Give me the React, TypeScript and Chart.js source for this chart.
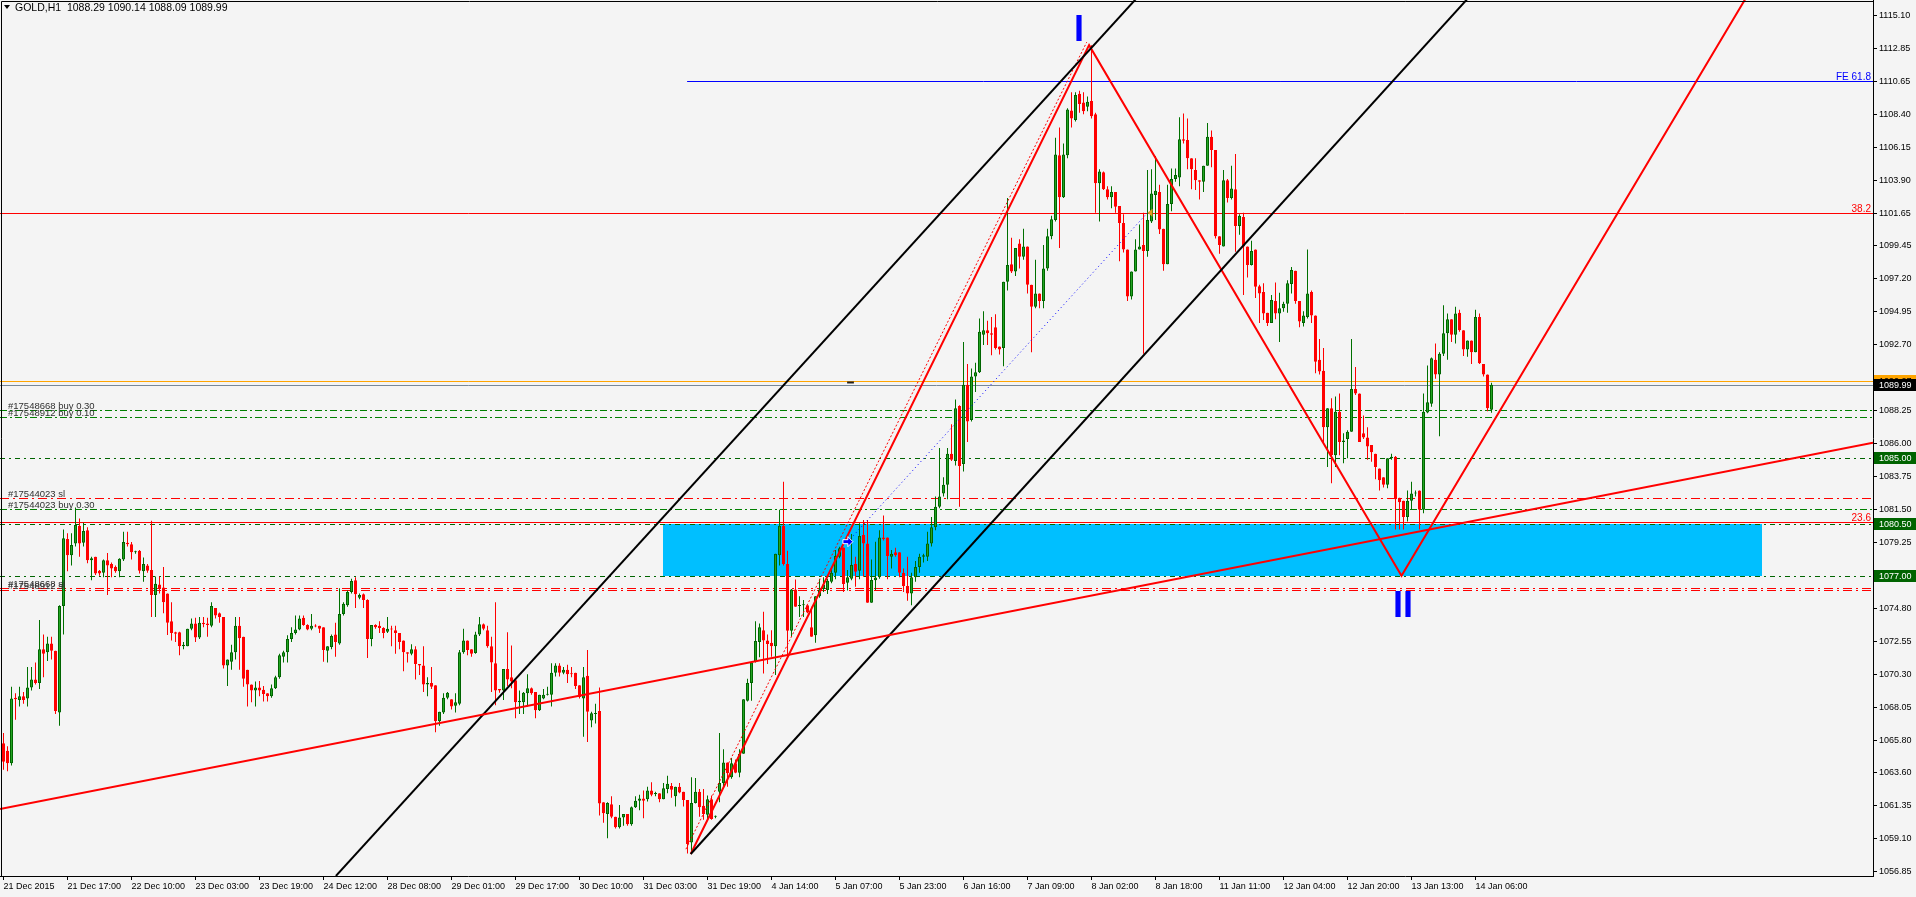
import React, { useEffect, useRef } from 'react';
import { Chart, registerables } from 'chart.js';

Chart.register(...registerables);

const FONT = "'Liberation Sans', Arial, sans-serif";

// ---- H1 candles (21 Dec 2015 -> 14 Jan 2016) ----
const opens = [
  1065.6,1065.1,1064.25,1068.7,1068.55,1068.8,1068.65,1069.4,1069.95,1069.7,
  1072.0,1071.8,1072.4,1071.9,1067.7,1074.95,1079.5,1078.4,1079.2,1080.4,
  1079.25,1080.1,1078.05,1078.3,1077.35,1077.2,1078.05,1077.8,1077.6,1077.3,
  1078.1,1079.25,1079.15,1078.6,1078.7,1077.3,1077.7,1077.4,1075.7,1076.4,
  1076.2,1075.8,1073.9,1073.15,1073.15,1072.2,1072.2,1073.4,1073.75,1072.8,
  1073.8,1073.75,1073.6,1074.8,1074.45,1074.2,1070.9,1071.15,1071.8,1073.6,
  1072.85,1070.6,1069.6,1069.2,1069.4,1069.25,1069.0,1068.8,1069.35,1070.1,
  1071.5,1071.8,1072.7,1073.1,1073.35,1074.15,1073.65,1073.4,1073.6,1073.6,
  1073.5,1071.9,1072.15,1073.0,1072.4,1074.4,1075.0,1075.9,1076.7,1075.5,
  1075.75,1075.35,1072.7,1073.65,1073.6,1073.45,1073.2,1073.4,1073.3,1073.1,
  1072.6,1071.8,1071.7,1072.0,1071.0,1070.9,1069.6,1069.7,1069.55,1067.1,
  1067.7,1068.7,1068.6,1068.15,1068.3,1071.8,1072.6,1072.0,1071.75,1073.0,
  1073.7,1073.3,1072.2,1071.05,1069.3,1069.2,1070.65,1070.1,1069.9,1068.4,
  1068.4,1069.0,1069.35,1069.1,1067.85,1068.65,1068.9,1068.9,1070.4,1070.9,
  1070.4,1070.6,1070.35,1070.4,1069.55,1068.65,1070.2,1067.15,1067.6,1067.8,
  1061.6,1060.8,1061.45,1060.6,1059.9,1060.55,1060.8,1060.1,1061.25,1061.7,
  1061.85,1061.8,1062.4,1062.15,1062.2,1061.8,1062.5,1062.7,1062.0,1062.65,
  1062.3,1061.75,1058.85,1061.55,1062.3,1061.35,1060.75,1061.8,1060.6,1062.3,
  1062.9,1064.3,1063.3,1064.25,1063.6,1064.9,1068.5,1069.7,1071.15,1072.5,
  1073.3,1072.6,1072.45,1072.2,1078.4,1080.4,1077.8,1073.26,1076.07,1074.95,
  1075.0,1075.0,1073.5,1072.95,1075.6,1076.1,1076.03,1076.6,1077.2,1078.3,
  1078.93,1076.53,1076.8,1077.8,1077.35,1079.77,1079.2,1075.17,1076.7,1076.9,
  1079.6,1079.6,1078.3,1078.6,1078.6,1077.2,1076.3,1075.8,1076.9,1077.6,
  1078.3,1078.3,1079.2,1080.3,1081.7,1082.6,1083.2,1085.3,1084.8,1088.55,
  1084.6,1090.0,1087.6,1090.55,1090.85,1093.4,1093.7,1093.5,1093.9,1092.6,
  1092.5,1097.0,1098.2,1097.7,1099.6,1098.7,1099.4,1096.8,1095.3,1096.2,
  1095.7,1097.9,1100.1,1101.2,1105.6,1102.75,1105.6,1108.65,1108.0,1109.8,
  1109.2,1108.9,1109.3,1108.4,1103.7,1104.45,1103.3,1102.75,1103.1,1102.15,
  1101.0,1099.2,1096.0,1097.7,1099.2,1099.5,1099.1,1101.1,1102.9,1103.1,
  1100.6,1098.2,1102.3,1104.0,1104.1,1106.7,1106.65,1105.4,1104.6,1103.9,
  1103.8,1104.9,1106.87,1105.96,1100.1,1099.4,1103.9,1102.7,1103.3,1100.8,
  1101.4,1099.4,1098.15,1099.2,1096.7,1096.3,1094.9,1094.2,1095.7,1094.85,
  1095.2,1095.5,1096.85,1097.75,1095.7,1094.2,1094.6,1096.3,1094.7,1091.7,
  1090.95,1087.1,1088.4,1085.2,1088.16,1086.1,1086.3,1086.8,1089.7,1089.4,
  1086.7,1086.4,1085.9,1085.3,1084.3,1083.7,1083.2,1085.0,1085.1,1082.3,
  1082.1,1081.0,1082.1,1082.6,1082.8,1081.5,1088.1,1088.7,1091.7,1090.7,
  1092.1,1093.5,1094.45,1093.4,1094.9,1093.7,1092.4,1093.0,1092.2,1094.6,
  1091.4,1090.7,1088.29,
];
const highs = [
  1066.3,1065.4,1069.45,1069.0,1069.45,1069.1,1070.8,1070.8,1071.1,1074.0,
  1073.0,1072.85,1072.85,1071.9,1075.0,1080.15,1079.9,1079.9,1081.65,1080.9,
  1080.6,1080.3,1078.3,1078.3,1077.4,1078.1,1078.55,1077.9,1077.7,1078.2,
  1080.0,1080.0,1079.3,1078.7,1078.75,1078.25,1077.8,1080.75,1076.95,1076.95,
  1077.6,1075.8,1075.2,1073.2,1073.2,1072.5,1073.4,1074.1,1074.15,1074.2,
  1074.2,1074.15,1075.2,1074.8,1074.5,1074.2,1071.3,1072.3,1074.2,1074.2,
  1072.85,1070.6,1069.6,1069.8,1069.85,1069.5,1069.0,1069.6,1070.2,1071.7,
  1071.9,1072.95,1073.5,1074.3,1074.3,1074.3,1073.7,1074.4,1073.7,1073.6,
  1073.5,1072.2,1073.0,1073.8,1076.15,1075.2,1076.0,1076.8,1076.9,1075.8,
  1075.8,1075.4,1073.65,1073.7,1073.9,1073.5,1074.2,1073.6,1073.6,1073.1,
  1072.6,1071.8,1072.35,1072.2,1071.0,1072.2,1070.1,1070.8,1069.55,1067.75,
  1069.0,1069.1,1068.6,1069.0,1071.95,1073.4,1072.6,1072.0,1073.2,1074.2,
  1073.75,1073.6,1072.85,1075.2,1069.3,1070.65,1073.15,1072.25,1069.9,1069.2,
  1069.1,1070.3,1069.4,1069.1,1068.9,1069.3,1069.45,1071.05,1071.05,1071.05,
  1070.8,1070.95,1070.8,1070.4,1069.55,1070.8,1071.95,1067.75,1068.3,1069.4,
  1061.6,1061.6,1062.0,1060.6,1061.4,1060.8,1060.8,1061.3,1062.0,1062.1,
  1062.4,1062.65,1062.95,1062.3,1062.2,1062.9,1063.4,1062.9,1062.65,1062.9,
  1062.3,1061.75,1063.3,1063.25,1062.5,1062.5,1062.05,1062.05,1060.7,1066.3,
  1065.2,1064.3,1064.6,1064.5,1065.2,1068.6,1070.0,1071.15,1073.9,1073.75,
  1074.56,1073.0,1073.3,1078.5,1081.5,1083.4,1078.7,1076.1,1076.75,1075.6,
  1075.35,1075.0,1074.9,1075.6,1076.8,1076.9,1076.8,1077.44,1078.75,1078.98,
  1078.93,1077.4,1079.84,1078.3,1080.57,1080.8,1080.8,1078.1,1079.32,1080.1,
  1081.1,1079.6,1078.75,1078.9,1078.6,1077.5,1078.3,1077.2,1078.0,1078.5,
  1078.5,1080.0,1081.0,1082.4,1085.7,1083.7,1085.7,1087.3,1089.0,1088.6,
  1092.9,1091.4,1091.1,1091.5,1094.5,1095.0,1094.35,1094.6,1094.8,1092.6,
  1097.0,1102.7,1100.0,1099.3,1099.9,1100.6,1099.4,1096.8,1098.5,1096.2,
  1099.5,1100.6,1101.5,1106.8,1107.5,1106.4,1108.8,1109.9,1109.9,1110.0,
  1109.9,1109.6,1113.09,1108.5,1104.65,1104.5,1103.5,1103.5,1103.1,1102.15,
  1101.6,1099.2,1097.7,1099.9,1100.9,1101.7,1104.6,1104.65,1105.55,1103.6,
  1100.6,1103.6,1104.7,1104.7,1108.2,1108.45,1108.1,1105.4,1105.4,1103.9,
  1104.9,1107.8,1107.3,1105.96,1100.1,1104.6,1104.0,1104.9,1105.7,1101.6,
  1101.7,1099.4,1099.8,1099.2,1096.8,1096.9,1094.9,1096.1,1096.95,1096.25,
  1095.65,1097.1,1098.0,1097.75,1095.7,1095.0,1099.2,1096.4,1094.7,1093.1,
  1092.5,1088.4,1089.07,1089.2,1089.4,1086.7,1086.9,1093.1,1091.2,1089.4,
  1087.9,1087.1,1085.9,1085.3,1084.3,1083.7,1085.0,1085.3,1085.15,1082.3,
  1082.1,1082.8,1083.4,1082.8,1082.8,1089.4,1091.3,1091.85,1092.8,1092.2,
  1095.4,1094.85,1094.45,1095.3,1095.1,1093.7,1093.0,1093.0,1095.1,1094.85,
  1091.4,1090.7,1090.14,
];
const lows = [
  1063.8,1063.7,1064.1,1067.2,1068.1,1068.3,1068.1,1069.2,1069.6,1069.3,
  1070.1,1071.2,1071.3,1067.6,1066.8,1073.0,1077.3,1077.7,1079.0,1078.3,
  1079.0,1077.85,1076.7,1077.05,1077.0,1076.9,1075.7,1076.9,1077.2,1076.9,
  1078.0,1079.0,1078.1,1078.5,1077.15,1076.6,1077.2,1074.2,1074.2,1075.8,
  1074.45,1072.97,1072.6,1072.5,1071.6,1072.0,1072.2,1073.3,1072.5,1072.7,
  1073.5,1072.85,1073.5,1074.1,1073.8,1070.7,1069.5,1070.6,1071.3,1070.6,
  1069.45,1068.1,1068.4,1068.1,1068.8,1068.45,1068.45,1068.7,1069.3,1070.0,
  1071.1,1071.1,1072.5,1073.0,1073.3,1073.6,1073.3,1073.3,1073.5,1073.1,
  1071.15,1071.1,1072.0,1071.5,1072.3,1074.3,1074.9,1075.8,1074.8,1075.4,
  1074.8,1071.4,1072.2,1073.4,1073.1,1072.75,1073.1,1072.2,1071.7,1072.0,
  1070.5,1071.1,1071.6,1069.95,1070.25,1069.1,1068.8,1069.3,1066.35,1066.8,
  1067.6,1068.6,1067.9,1067.7,1068.2,1071.7,1071.6,1071.5,1071.7,1072.9,
  1073.3,1072.1,1069.1,1068.2,1069.05,1068.55,1069.5,1069.35,1067.3,1067.6,
  1067.6,1068.1,1068.9,1067.3,1067.8,1068.6,1068.85,1068.1,1070.15,1070.15,
  1070.3,1069.7,1070.1,1069.3,1068.65,1066.05,1065.7,1066.7,1066.95,1060.7,
  1060.2,1059.15,1060.5,1059.8,1059.8,1060.0,1060.0,1060.0,1061.2,1061.05,
  1060.5,1061.65,1062.0,1062.0,1061.6,1061.8,1062.2,1061.9,1061.3,1062.2,
  1061.3,1058.1,1058.1,1061.5,1060.6,1060.4,1060.4,1060.4,1060.5,1061.6,
  1062.65,1062.65,1063.2,1063.56,1063.3,1064.9,1068.45,1068.5,1071.1,1071.45,
  1070.36,1071.0,1071.5,1070.25,1077.7,1077.7,1071.5,1072.9,1074.9,1074.2,
  1074.2,1074.45,1072.85,1072.45,1075.5,1075.9,1075.76,1076.5,1076.76,1078.2,
  1075.9,1075.99,1076.7,1076.26,1076.76,1076.94,1075.17,1075.17,1076.03,1076.8,
  1079.4,1076.76,1077.5,1078.3,1076.9,1075.9,1075.3,1075.0,1076.6,1077.2,
  1077.9,1078.0,1079.0,1080.1,1081.6,1082.4,1082.2,1084.8,1084.5,1081.7,
  1084.1,1086.1,1087.5,1089.5,1090.8,1092.7,1092.7,1092.0,1092.4,1092.05,
  1091.25,1096.4,1097.6,1097.4,1097.9,1098.5,1096.2,1092.2,1095.2,1095.2,
  1095.2,1097.75,1099.9,1101.1,1099.3,1102.7,1105.4,1107.5,1107.9,1108.5,
  1108.4,1108.6,1108.1,1101.7,1101.1,1103.25,1102.6,1102.0,1101.7,1098.4,
  1099.0,1095.7,1095.8,1097.7,1099.2,1092.1,1098.7,1101.0,1101.2,1100.25,
  1097.75,1098.2,1101.8,1103.8,1103.5,1106.4,1104.65,1103.3,1103.25,1102.6,
  1103.1,1104.9,1104.8,1099.95,1098.9,1099.4,1102.4,1102.6,1099.05,1100.2,
  1096.1,1097.3,1098.1,1095.9,1094.2,1094.4,1094.0,1094.2,1094.45,1092.9,
  1094.97,1094.9,1096.2,1095.5,1093.9,1093.95,1094.5,1094.2,1090.77,1090.7,
  1086.0,1084.4,1083.3,1084.4,1085.2,1084.65,1085.0,1086.8,1089.3,1086.1,
  1086.3,1084.9,1084.75,1083.56,1082.8,1083.0,1082.95,1084.9,1080.15,1080.15,
  1080.15,1080.7,1081.5,1082.4,1080.15,1081.25,1088.05,1088.5,1090.4,1086.5,
  1091.95,1091.7,1092.9,1092.8,1093.6,1091.95,1091.9,1091.4,1092.2,1091.4,
  1090.55,1088.2,1088.09,
];
const closes = [
  1064.35,1064.25,1068.65,1068.6,1068.8,1068.55,1069.4,1069.95,1069.7,1072.0,
  1071.7,1072.4,1071.9,1067.8,1074.95,1079.55,1078.4,1079.1,1080.45,1079.2,
  1080.05,1078.05,1078.2,1077.15,1077.15,1078.05,1077.7,1077.5,1077.3,1078.15,
  1079.3,1079.15,1078.6,1078.65,1077.35,1077.8,1077.35,1075.7,1076.45,1076.1,
  1075.2,1073.8,1073.1,1073.05,1072.2,1072.3,1073.4,1073.75,1072.8,1073.8,
  1073.7,1073.65,1074.95,1074.3,1074.2,1070.9,1071.3,1071.8,1073.6,1072.75,
  1070.0,1069.6,1069.2,1069.4,1069.2,1068.95,1068.8,1069.35,1070.1,1071.6,
  1071.8,1072.7,1073.1,1073.35,1074.1,1073.65,1073.35,1073.6,1073.55,1073.4,
  1071.95,1072.2,1072.9,1072.5,1074.4,1075.1,1075.9,1076.65,1075.75,1075.7,
  1075.35,1072.7,1073.65,1073.5,1073.45,1073.1,1073.4,1073.35,1073.1,1072.5,
  1071.8,1071.7,1072.0,1071.0,1070.9,1069.6,1069.7,1069.45,1067.1,1067.75,
  1068.7,1069.05,1068.1,1068.4,1071.8,1072.6,1071.95,1071.7,1073.0,1073.7,
  1073.4,1072.2,1071.1,1069.2,1069.2,1070.65,1069.95,1069.8,1068.4,1068.5,
  1069.05,1069.35,1069.0,1067.85,1068.9,1068.9,1068.95,1070.4,1070.9,1070.4,
  1070.6,1070.3,1070.3,1069.5,1068.75,1070.1,1067.75,1067.65,1067.65,1061.5,
  1060.85,1061.55,1060.6,1059.9,1060.55,1060.8,1060.1,1061.25,1061.7,1061.85,
  1061.7,1062.4,1062.1,1062.2,1061.8,1062.55,1062.85,1062.45,1062.65,1062.25,
  1061.75,1058.75,1061.55,1062.3,1061.25,1060.8,1061.8,1060.45,1060.65,1062.9,
  1064.3,1063.56,1064.25,1063.6,1064.9,1068.6,1069.7,1071.1,1072.56,1073.5,
  1072.6,1072.36,1072.2,1078.5,1080.4,1077.8,1073.26,1076.07,1074.9,1074.98,
  1075.05,1074.5,1072.85,1075.6,1076.07,1076.4,1076.67,1077.21,1078.35,1078.87,
  1076.44,1076.9,1077.73,1077.28,1079.7,1079.2,1075.17,1076.71,1076.89,1079.6,
  1079.48,1078.35,1078.5,1078.4,1077.2,1076.3,1075.8,1076.9,1077.6,1078.3,
  1078.4,1079.2,1080.3,1081.7,1082.4,1083.2,1085.3,1084.9,1088.4,1084.46,
  1090.0,1087.5,1090.55,1090.85,1093.6,1093.7,1093.5,1093.4,1092.5,1092.4,
  1097.0,1098.15,1097.7,1099.3,1098.7,1099.4,1096.8,1095.3,1096.2,1095.7,
  1097.9,1100.1,1101.25,1105.66,1102.75,1105.66,1108.72,1108.1,1109.7,1109.1,
  1108.6,1109.25,1108.26,1103.7,1104.5,1103.3,1102.75,1103.1,1102.1,1101.0,
  1099.2,1096.0,1097.7,1099.2,1099.4,1099.1,1101.2,1103.0,1103.2,1100.55,
  1098.2,1102.3,1104.0,1104.26,1106.7,1106.6,1105.4,1104.65,1103.9,1103.8,
  1104.9,1106.87,1105.96,1100.1,1099.5,1103.9,1102.7,1103.35,1100.8,1101.5,
  1099.4,1098.15,1099.1,1096.67,1096.2,1094.85,1094.2,1095.76,1094.85,1095.2,
  1095.5,1096.9,1097.8,1095.7,1094.3,1094.7,1096.2,1094.7,1091.56,1090.9,
  1087.1,1088.4,1085.2,1088.16,1086.1,1086.2,1086.8,1089.7,1089.4,1086.1,
  1086.4,1085.8,1085.4,1084.4,1083.5,1083.2,1085.0,1085.1,1082.2,1082.0,
  1081.0,1082.1,1082.6,1082.65,1081.5,1088.16,1088.8,1091.8,1090.7,1092.1,
  1093.5,1094.45,1093.4,1094.85,1093.7,1092.4,1093.0,1092.2,1094.6,1091.45,
  1090.7,1088.4,1089.99,
];

// ---- axes ----
const xTickBars = [0,16,32,48,64,80,96,112,128,144,160,176,192,208,224,240,256,272,288,304,320,336,352,368];
const xTickLabels = [
  '21 Dec 2015','21 Dec 17:00','22 Dec 10:00','23 Dec 03:00','23 Dec 19:00','24 Dec 12:00',
  '28 Dec 08:00','29 Dec 01:00','29 Dec 17:00','30 Dec 10:00','31 Dec 03:00','31 Dec 19:00',
  '4 Jan 14:00','5 Jan 07:00','5 Jan 23:00','6 Jan 16:00','7 Jan 09:00','8 Jan 02:00',
  '8 Jan 18:00','11 Jan 11:00','12 Jan 04:00','12 Jan 20:00','13 Jan 13:00','14 Jan 06:00',
];
const yTickValues = [
  1115.10,1112.85,1110.65,1108.40,1106.15,1103.90,1101.65,1099.45,1097.20,1094.95,1092.70,
  1088.25,1086.00,1083.75,1081.50,1079.25,1074.80,1072.55,1070.30,1068.05,1065.80,1063.60,
  1061.35,1059.10,1056.85,
];
const X_MIN = -0.875;
const X_MAX = 467.375;
const Y_MIN = 1056.576;
const Y_MAX = 1116.17;

// ---- horizontal levels ----
const levelPrices = [1110.65, 1101.65, 1080.65, 1090.27, 1089.99, 1088.3, 1087.8, 1085.0, 1082.27, 1081.52, 1080.5, 1077.0, 1076.15, 1076.04];
const levelKinds  = ['fe', 'fib', 'fib', 'ask', 'bid', 'buy', 'buy', 'mark', 'sl', 'buy', 'mark', 'mark', 'sl', 'sl'];
const levelStartBars = [170.9, null, null, null, null, null, null, null, null, null, null, null, null, null];
const levelTexts = ['FE 61.8', '38.2', '23.6', '', '', '#17548668 buy 0.30', '#17548912 buy 0.10', '', '#17544023 sl', '#17544023 buy 0.30', '', '', '#17548668 sl', '#17548912 sl'];
const axisBoxPrices = [1085.0, 1080.5, 1077.0];
const ASK_PRICE = 1090.27;
const BID_PRICE = 1089.99;

// ---- objects (bar index, price) ----
const trendRed = [[-0.875, 1061.13], [467.375, 1086.05]];
const channelUpper = [[83.1, 1056.58], [286, 1117.1]];
const channelLower = [[171.8, 1058.07], [369, 1117.15]];
const zigzag = [[171.8, 1058.07], [271.4, 1113.1], [349.5, 1077.0], [438, 1117.4]];
const zigzagDotted = [[170.6, 1058.4], [270.8, 1113.3]];
const tradeLine = [[211.1, 1079.32], [286.0, 1101.7]];
const openDash = [[210.9, 1090.15], [212.6, 1090.15]];
const zoneBars = [164.8, 439.6];
const zonePrices = [1077.0, 1080.5];
const waveLabels = ['I', 'II'];
const waveBars = [268.9, 349.9];
const wavePrices = [1113.38, 1074.2];
const header = 'GOLD,H1  1088.29 1090.14 1088.09 1089.99';

const kindStyle: Record<string, { color: string; dash: number[] }> = {
  fe: { color: '#0000FF', dash: [] },
  fib: { color: '#FF0000', dash: [] },
  ask: { color: '#FFA500', dash: [] },
  bid: { color: '#778899', dash: [] },
  buy: { color: '#008000', dash: [7, 3, 2, 3] },
  mark: { color: '#006400', dash: [5, 4, 2, 4] },
  sl: { color: '#FF0000', dash: [9, 4, 2, 4] },
};

const toPts = (arr: number[][]) => arr.map(([x, y]) => ({ x, y }));

function lineDs(arr: number[][], color: string, width: number, dash: number[] = []) {
  return {
    type: 'line' as const,
    data: toPts(arr),
    borderColor: color,
    borderWidth: width,
    borderDash: dash,
    pointRadius: 0,
    fill: false,
    tension: 0,
    order: 0,
  };
}

const overlay = {
  id: 'overlay',
  beforeDraw(chart: any) {
    const { ctx, width, height } = chart;
    ctx.save();
    ctx.fillStyle = '#F4F4F4';
    ctx.fillRect(0, 0, width, height);
    ctx.restore();
  },
  beforeDatasetsDraw(chart: any) {
    const { ctx, chartArea: a, scales } = chart;
    const x = scales.x, y = scales.y;
    ctx.save();
    ctx.beginPath();
    ctx.rect(a.left, a.top, a.right - a.left, a.bottom - a.top);
    ctx.clip();
    const zx1 = Math.round(x.getPixelForValue(zoneBars[0]));
    const zx2 = Math.round(x.getPixelForValue(zoneBars[1]));
    const zy1 = Math.round(y.getPixelForValue(zonePrices[1]));
    const zy2 = Math.round(y.getPixelForValue(zonePrices[0]));
    ctx.fillStyle = '#00BFFF';
    ctx.fillRect(zx1, zy1, zx2 - zx1, zy2 - zy1);
    ctx.lineWidth = 1;
    levelPrices.forEach((p, i) => {
      const st = kindStyle[levelKinds[i]];
      const yy = Math.round(y.getPixelForValue(p)) + 0.5;
      const sb = levelStartBars[i];
      const xs = sb == null ? a.left : x.getPixelForValue(sb);
      ctx.strokeStyle = st.color;
      ctx.setLineDash(st.dash);
      ctx.beginPath();
      ctx.moveTo(xs, yy);
      ctx.lineTo(a.right, yy);
      ctx.stroke();
    });
    ctx.setLineDash([]);
    ctx.restore();
  },
  afterDraw(chart: any) {
    const { ctx, chartArea: a, scales } = chart;
    const x = scales.x, y = scales.y;
    ctx.save();
    ctx.strokeStyle = '#000';
    ctx.lineWidth = 1;
    ctx.beginPath();
    ctx.moveTo(1.5, a.bottom);
    ctx.lineTo(1.5, 1.5);
    ctx.lineTo(a.right, 1.5);
    ctx.stroke();

    levelPrices.forEach((p, i) => {
      const t = levelTexts[i];
      if (!t) return;
      const yy = Math.round(y.getPixelForValue(p));
      const kind = levelKinds[i];
      if (kind === 'fe' || kind === 'fib') {
        ctx.font = `10px ${FONT}`;
        ctx.fillStyle = kindStyle[kind].color;
        ctx.textAlign = 'right';
        ctx.textBaseline = 'alphabetic';
        ctx.fillText(t, a.right - 2, yy - 1);
      } else {
        ctx.font = `9.5px ${FONT}`;
        ctx.fillStyle = '#303030';
        ctx.textAlign = 'left';
        ctx.textBaseline = 'alphabetic';
        ctx.fillText(t, 8, yy - 1);
      }
    });

    const ax = x.getPixelForValue(tradeLine[0][0]);
    const ay = y.getPixelForValue(tradeLine[0][1]);
    ctx.fillStyle = '#0000FF';
    ctx.strokeStyle = '#FFFFFF';
    ctx.beginPath();
    ctx.moveTo(ax - 5, ay - 2);
    ctx.lineTo(ax, ay - 2);
    ctx.lineTo(ax, ay - 5);
    ctx.lineTo(ax + 5, ay);
    ctx.lineTo(ax, ay + 5);
    ctx.lineTo(ax, ay + 2);
    ctx.lineTo(ax - 5, ay + 2);
    ctx.closePath();
    ctx.fill();
    ctx.stroke();
    const cx = x.getPixelForValue(tradeLine[1][0]);
    const cy = y.getPixelForValue(tradeLine[1][1]);
    ctx.fillStyle = '#E0A020';
    ctx.beginPath();
    ctx.moveTo(cx, cy);
    ctx.lineTo(cx + 5, cy - 4);
    ctx.lineTo(cx + 5, cy + 4);
    ctx.closePath();
    ctx.fill();

    ctx.font = `bold 36px ${FONT}`;
    ctx.fillStyle = '#0000FF';
    ctx.textAlign = 'center';
    ctx.textBaseline = 'alphabetic';
    waveLabels.forEach((t, i) => {
      ctx.fillText(t, x.getPixelForValue(waveBars[i]), y.getPixelForValue(wavePrices[i]));
    });

    const box = (p: number, bg: string, fg: string) => {
      const yc = Math.round(y.getPixelForValue(p));
      ctx.fillStyle = bg;
      ctx.fillRect(a.right + 1, yc - 6, 1916 - a.right - 1, 12);
      ctx.fillStyle = fg;
      ctx.font = `9px ${FONT}`;
      ctx.textAlign = 'left';
      ctx.textBaseline = 'middle';
      ctx.fillText(p.toFixed(2), a.right + 6, yc + 0.5);
    };
    axisBoxPrices.forEach((p) => box(p, '#006400', '#FFFFFF'));
    box(ASK_PRICE, '#FFA500', '#000000');
    box(BID_PRICE, '#000000', '#FFFFFF');

    ctx.fillStyle = '#000';
    ctx.beginPath();
    ctx.moveTo(4, 5);
    ctx.lineTo(10, 5);
    ctx.lineTo(7, 9);
    ctx.closePath();
    ctx.fill();
    ctx.font = `10.5px ${FONT}`;
    ctx.textAlign = 'left';
    ctx.textBaseline = 'alphabetic';
    ctx.fillText(header, 15, 11);
    ctx.restore();
  },
};

export default function App() {
  const ref = useRef<HTMLCanvasElement>(null);

  useEffect(() => {
    const canvas = ref.current;
    if (!canvas) return;
    const idx = opens.map((_, i) => i);
    const up = idx.map((i) => closes[i] >= opens[i]);

    const chart = new Chart(canvas, {
      type: 'bar',
      data: {
        datasets: [
          lineDs(trendRed, '#FF0000', 2),
          lineDs(channelUpper, '#000000', 2),
          lineDs(channelLower, '#000000', 2),
          lineDs(zigzag, '#FF0000', 2),
          lineDs(zigzagDotted, '#FF0000', 1, [2, 2]),
          lineDs(tradeLine, '#0000FF', 1, [1, 3]),
          lineDs(openDash, '#202020', 2),
          {
            type: 'bar',
            data: idx.map((i) => ({ x: i, y: [opens[i], closes[i]] })),
            backgroundColor: idx.map((i) => (up[i] ? '#22A422' : '#FF0000')),
            borderColor: idx.map((i) => (up[i] ? '#006400' : '#FF0000')),
            borderWidth: 1,
            borderSkipped: false,
            barThickness: 3,
            minBarLength: 1,
            grouped: false,
            inflateAmount: 0,
            order: 1,
          } as any,
          {
            type: 'bar',
            data: idx.map((i) => ({ x: i, y: [lows[i], highs[i]] })),
            backgroundColor: idx.map((i) => (up[i] ? '#007000' : '#FF0000')),
            borderWidth: 0,
            barThickness: 1,
            grouped: false,
            inflateAmount: 0,
            order: 2,
          } as any,
        ] as any,
      },
      options: {
        responsive: false,
        maintainAspectRatio: false,
        devicePixelRatio: 1,
        animation: false,
        events: [],
        layout: { padding: 0 },
        plugins: { legend: { display: false }, tooltip: { enabled: false } },
        scales: {
          x: {
            type: 'linear',
            position: 'bottom',
            min: X_MIN,
            max: X_MAX,
            offset: false,
            grid: { display: true, drawOnChartArea: false, drawTicks: true, tickLength: 4, color: '#000', offset: false },
            border: { display: true, color: '#000' },
            ticks: {
              autoSkip: false,
              maxRotation: 0,
              minRotation: 0,
              align: 'start',
              padding: 1,
              color: '#000',
              font: { family: FONT, size: 9 },
              callback: (v: any) => {
                const k = xTickBars.indexOf(Number(v));
                return k >= 0 ? xTickLabels[k] : '';
              },
            },
            afterBuildTicks: (s: any) => {
              s.ticks = xTickBars.map((v) => ({ value: v }));
            },
            afterFit: (s: any) => {
              s.height = 21;
              s.paddingLeft = 0;
              s.paddingRight = 0;
              s.paddingTop = 0;
              s.paddingBottom = 0;
            },
          },
          y: {
            type: 'linear',
            position: 'right',
            min: Y_MIN,
            max: Y_MAX,
            grid: { display: true, drawOnChartArea: false, drawTicks: true, tickLength: 4, color: '#000' },
            border: { display: true, color: '#000' },
            ticks: {
              autoSkip: false,
              padding: 2,
              color: '#000',
              font: { family: FONT, size: 9 },
              callback: (v: any) => Number(v).toFixed(2),
            },
            afterBuildTicks: (s: any) => {
              s.ticks = yTickValues.map((v) => ({ value: v }));
            },
            afterFit: (s: any) => {
              s.width = 43;
              s.paddingLeft = 0;
              s.paddingRight = 0;
              s.paddingTop = 0;
              s.paddingBottom = 0;
            },
          },
        },
      } as any,
      plugins: [overlay],
    });
    return () => chart.destroy();
  }, []);

  return (
    <div style={{ position: 'fixed', left: 0, top: 0, width: 1916, height: 897, background: '#F4F4F4' }}>
      <canvas ref={ref} width={1916} height={897} style={{ display: 'block', width: 1916, height: 897 }} />
    </div>
  );
}
